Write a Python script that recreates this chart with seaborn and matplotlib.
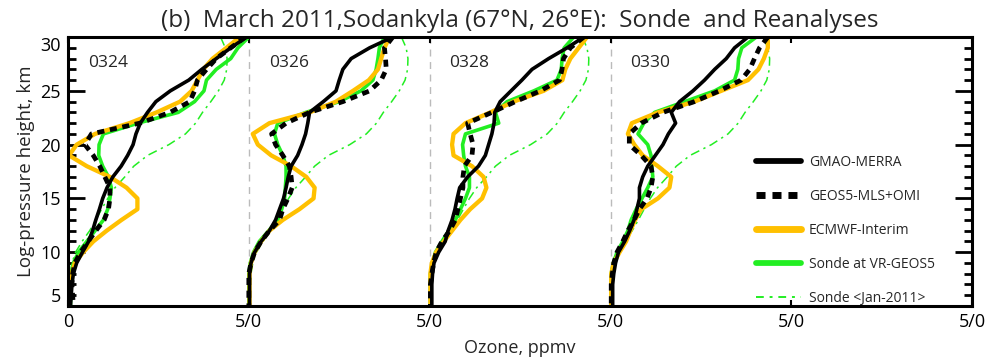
import numpy as np
import pandas as pd
import matplotlib
matplotlib.use("Agg")
import matplotlib.pyplot as plt
import seaborn as sns
from matplotlib.lines import Line2D
from matplotlib.ticker import MultipleLocator

# ---------------- data ----------------
dates = ["0324", "0326", "0328", "0330"]
panel_offsets = [0, 5, 10, 15]
altitude = list(range(30, 4, -1))  # km, 30 -> 5

merra_0324 = [4.94, 4.5, 4.1, 3.7, 3.34, 2.83, 2.43, 2.2, 2.0, 1.88, 1.8, 1.65, 1.47, 1.24, 1.08, 0.96, 0.87, 0.77, 0.68, 0.57, 0.4, 0.24, 0.15, 0.11, 0.09, 0.07]
geos5_0324 = [4.9, 4.5, 4.1, 3.83, 3.58, 3.5, 3.37, 2.82, 1.99, 0.65, 0.47, 0.7, 0.88, 1.02, 1.16, 1.16, 1.12, 1.0, 0.77, 0.56, 0.35, 0.19, 0.13, 0.11, 0.13, 0.15]
ecmwf_0324 = [4.75, 4.38, 4.0, 3.74, 3.58, 3.42, 3.1, 2.45, 1.7, 0.75, 0.24, 0.03, 0.52, 1.16, 1.62, 1.92, 1.92, 1.48, 1.07, 0.7, 0.42, 0.19, 0.1, 0.06, 0.04, 0.03]
sonde_0324 = [5.0, 4.7, 4.5, 4.1, 3.83, 3.76, 3.5, 3.05, 1.94, 0.98, 0.86, 0.85, 0.96, 1.12, 1.2, 1.16, 1.1, 0.98, 0.75, 0.52, 0.29, 0.15, 0.1, 0.08, 0.07, 0.07]

merra_0326 = [3.98, 3.34, 2.83, 2.6, 2.5, 2.41, 2.06, 1.68, 1.63, 1.57, 1.47, 1.35, 1.17, 1.09, 1.03, 0.96, 0.85, 0.74, 0.57, 0.34, 0.16, 0.06, 0.02, 0.02, 0.02, 0.02]
geos5_0326 = [3.98, 3.75, 3.78, 3.8, 3.66, 3.34, 2.6, 1.68, 1.03, 0.63, 0.74, 0.94, 1.12, 1.17, 1.2, 1.08, 0.94, 0.85, 0.57, 0.34, 0.16, 0.06, 0.0, 0.0, 0.0, 0.0]
ecmwf_0326 = [3.89, 3.75, 3.66, 3.57, 3.32, 2.88, 2.41, 1.68, 0.57, 0.11, 0.25, 0.62, 1.17, 1.59, 1.82, 1.79, 1.4, 0.94, 0.57, 0.34, 0.16, 0.06, 0.02, 0.02, 0.02, 0.02]
sonde_0326 = [3.75, 3.61, 3.57, 3.52, 3.43, 3.1, 2.5, 1.58, 0.8, 0.71, 0.8, 0.94, 1.03, 1.03, 1.01, 0.99, 0.91, 0.8, 0.55, 0.29, 0.13, 0.04, 0.0, 0.0, 0.0, 0.0]

merra_0328 = [4.26, 3.8, 3.29, 2.83, 2.55, 2.25, 1.95, 1.8, 1.78, 1.72, 1.63, 1.54, 1.35, 1.05, 0.83, 0.76, 0.7, 0.62, 0.51, 0.43, 0.25, 0.12, 0.08, 0.06, 0.06, 0.06]
geos5_0328 = [4.26, 3.89, 3.7, 3.66, 3.59, 3.06, 2.37, 1.72, 1.05, 1.12, 1.2, 1.17, 0.96, 0.92, 0.92, 0.85, 0.78, 0.71, 0.55, 0.34, 0.18, 0.11, 0.06, 0.02, 0.02, 0.02]
ecmwf_0328 = [4.35, 4.12, 3.89, 3.75, 3.67, 3.15, 2.32, 1.68, 0.99, 0.66, 0.62, 0.66, 1.17, 1.49, 1.57, 1.45, 1.12, 0.85, 0.62, 0.39, 0.18, 0.06, 0.02, 0.02, 0.02, 0.02]
sonde_0328 = [3.98, 3.72, 3.66, 3.64, 3.52, 2.88, 2.14, 1.82, 1.91, 0.99, 0.91, 0.94, 0.99, 1.1, 1.1, 0.99, 0.85, 0.71, 0.53, 0.34, 0.16, 0.08, 0.02, 0.02, 0.02, 0.02]

merra_0330 = [3.8, 3.43, 3.2, 2.88, 2.6, 2.28, 1.91, 1.68, 1.8, 1.6, 1.45, 1.24, 1.03, 0.89, 0.8, 0.8, 0.73, 0.65, 0.53, 0.39, 0.22, 0.14, 0.09, 0.06, 0.06, 0.06]
geos5_0330 = [4.35, 4.12, 3.98, 3.85, 3.61, 3.01, 2.32, 1.45, 0.85, 0.52, 0.52, 0.85, 1.12, 1.17, 1.12, 1.01, 0.8, 0.65, 0.48, 0.34, 0.18, 0.09, 0.05, 0.02, 0.02, 0.02]
ecmwf_0330 = [4.35, 4.35, 4.24, 4.09, 3.8, 3.06, 2.32, 1.31, 0.59, 0.48, 0.66, 0.89, 1.31, 1.68, 1.63, 1.31, 0.85, 0.68, 0.55, 0.43, 0.25, 0.09, 0.02, 0.02, 0.02, 0.02]
sonde_0330 = [4.03, 3.63, 3.54, 3.52, 3.43, 2.88, 2.05, 1.22, 0.92, 0.76, 1.03, 1.12, 1.14, 1.17, 1.03, 0.87, 0.71, 0.57, 0.48, 0.34, 0.18, 0.08, 0.02, 0.02, 0.02, 0.02]

sonde_jan2011 = [4.22, 4.35, 4.4, 4.39, 4.32, 4.16, 3.95, 3.72, 3.53, 3.25, 2.79, 2.2, 1.82, 1.57, 1.3, 1.1, 0.93, 0.77, 0.6, 0.39, 0.21, 0.11, 0.06, 0.04, 0.03, 0.03]

legend_order = ["GMAO-MERRA", "GEOS5-MLS+OMI", "ECMWF-Interim", "Sonde at VR-GEOS5", "Sonde <Jan-2011>"]
draw_order = ["Sonde <Jan-2011>", "Sonde at VR-GEOS5", "ECMWF-Interim", "GEOS5-MLS+OMI", "GMAO-MERRA"]
series_data = {
    "GMAO-MERRA": [merra_0324, merra_0326, merra_0328, merra_0330],
    "GEOS5-MLS+OMI": [geos5_0324, geos5_0326, geos5_0328, geos5_0330],
    "ECMWF-Interim": [ecmwf_0324, ecmwf_0326, ecmwf_0328, ecmwf_0330],
    "Sonde at VR-GEOS5": [sonde_0324, sonde_0326, sonde_0328, sonde_0330],
    "Sonde <Jan-2011>": [sonde_jan2011] * 4,
}

rows = []
for name, profiles in series_data.items():
    for date, off, prof in zip(dates, panel_offsets, profiles):
        for alt, val in zip(altitude, prof):
            rows.append({"series": name, "panel": date, "alt": alt, "ozone": val + off})
df = pd.DataFrame(rows)

styles = {
    "GMAO-MERRA": dict(color="black", lw=2.6, ls="-"),
    "GEOS5-MLS+OMI": dict(color="black", lw=3.4, ls=(0, (1.5, 1.2))),
    "ECMWF-Interim": dict(color="#FFC000", lw=3.1, ls="-"),
    "Sonde at VR-GEOS5": dict(color="#22EE22", lw=2.6, ls="-"),
    "Sonde <Jan-2011>": dict(color="#22EE22", lw=1.1, ls=(0, (6, 3, 1.5, 3))),
}

# ---------------- figure ----------------
sns.set_theme(style="white")
plt.rcParams["font.family"] = ["Open Sans", "DejaVu Sans"]

fig = plt.figure(figsize=(9.85, 3.6), dpi=100)
ax = fig.add_axes([0.069, 0.15, 0.918, 0.747])

for off in panel_offsets[1:]:
    ax.axvline(off, color="#BBBBBB", lw=1.0, ls=(0, (5, 4)), zorder=0)

for name in draw_order:
    st = styles[name]
    sns.lineplot(data=df[df.series == name], x="ozone", y="alt", units="panel",
                 estimator=None, sort=False, orient="y", ax=ax, legend=False,
                 color=st["color"], linewidth=st["lw"], linestyle=st["ls"])

for date, off in zip(dates, panel_offsets):
    ax.text(off + 0.55, 27.6, date, fontsize=12.5, ha="left", va="center")

ax.set_xlim(0, 25)
ax.set_ylim(5, 30)
ax.set_xticks([0, 5, 10, 15, 20, 25])
ax.set_xticklabels(["0", "5/0", "5/0", "5/0", "5/0", "5/0"])
ax.set_yticks([5, 10, 15, 20, 25, 30])
ax.set_yticklabels(["5", "10", "15", "20", "25", "30"])
ax.yaxis.set_minor_locator(MultipleLocator(1))
ax.tick_params(axis="both", which="both", direction="in", top=True, right=True,
               bottom=True, left=True, colors="black", labelsize=13)
ax.tick_params(axis="y", which="major", length=12, width=2, pad=5)
ax.tick_params(axis="y", which="minor", length=6, width=2)
ax.tick_params(axis="x", which="major", length=4, width=1.5, pad=5)
ylabs = ax.get_yticklabels()
ylabs[0].set_verticalalignment("bottom")
ylabs[-1].set_verticalalignment("top")
for sp in ax.spines.values():
    sp.set_linewidth(2.2)
    sp.set_color("black")

ax.set_xlabel("Ozone, ppmv", fontsize=13, labelpad=6)
ax.set_ylabel("Log-pressure height, km", fontsize=13.5, labelpad=4)
ax.set_title("(b)  March 2011,Sodankyla (67\u00b0N, 26\u00b0E):  Sonde  and Reanalyses",
             fontsize=17.5, pad=7)

handles = []
for name in legend_order:
    st = styles[name]
    if name == "Sonde <Jan-2011>":
        handles.append(Line2D([], [], color=st["color"], lw=1.4, ls=(0, (4, 3, 1.5, 3))))
    elif name == "GEOS5-MLS+OMI":
        handles.append(Line2D([], [], color=st["color"], lw=5, ls=(0, (1.3, 1.0))))
    else:
        handles.append(Line2D([], [], color=st["color"], lw=st["lw"] * 1.6, ls=st["ls"]))
ax.legend(handles, legend_order,
          loc="upper left", bbox_to_anchor=(0.761, 0.562), frameon=False, fontsize=10,
          handlelength=3.2, handletextpad=0.6, labelspacing=1.37, borderpad=0, borderaxespad=0)

fig.savefig("out.png", dpi=100)
